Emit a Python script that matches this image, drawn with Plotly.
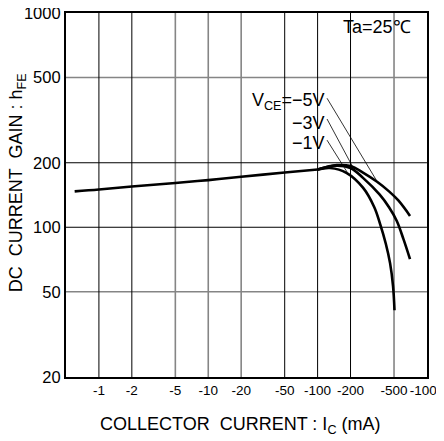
import plotly.graph_objects as go

# ---- data ----
x_ticks = [1, 2, 5, 10, 20, 50, 100, 200, 500, 1000]
x_tick_labels = ["-1", "-2", "-5", "-10", "-20", "-50", "-100", "-200", "-500", "-1000"]
y_ticks = [20, 50, 100, 200, 500, 1000]
y_tick_labels = ["20", "50", "100", "200", "500", "1000"]

# grid lines: dark ones and gray ones
x_grid_dark = [1, 2, 50, 100, 200]
x_grid_gray = [5, 10, 20, 500]
y_grid_dark = [100, 200]
y_grid_gray = [50, 500]

# common low-current part (all VCE)
ic_common = [0.6, 1, 2, 5, 10, 20, 50, 100]
hfe_common = [147, 150, 155, 161, 166, 172, 180, 186]

# high-current branches
ic_5v = [100, 150, 200, 260, 350, 450, 550, 700]
hfe_5v = [186, 195, 193, 180, 163, 147, 133, 113]

ic_3v = [100, 150, 200, 260, 370, 450, 530, 610, 700]
hfe_3v = [186, 194, 189, 170, 142, 124, 107, 88, 71]

ic_1v = [100, 130, 185, 260, 330, 372, 420, 460, 490, 505]
hfe_1v = [186, 189, 179, 153, 124, 104, 84, 68, 53, 41]

# leader lines (label end -> curve)
lead_5v_x = [122, 349]
lead_5v_y = [400, 164]
lead_3v_x = [122, 211]
lead_3v_y = [320, 190]
lead_1v_x = [122, 186]
lead_1v_y = [255, 181]

X_RANGE = [-0.30103, 3.0005]
Y_RANGE = [1.30103, 3]

fig = go.Figure()

def vline(v, color, width):
    fig.add_trace(go.Scatter(x=[v, v], y=[y_ticks[0], y_ticks[-1]], mode="lines",
                             line=dict(color=color, width=width),
                             hoverinfo="skip", showlegend=False))

def hline(v, color, width):
    fig.add_trace(go.Scatter(x=[0.5, x_ticks[-1]], y=[v, v], mode="lines",
                             line=dict(color=color, width=width),
                             hoverinfo="skip", showlegend=False))

for v in x_grid_gray:
    vline(v, "#858585", 1.6)
for v in y_grid_gray:
    hline(v, "#858585", 1.6)
for v in x_grid_dark:
    vline(v, "#000000", 1)
for v in y_grid_dark:
    hline(v, "#000000", 1)

# leader lines
for lx, ly in [(lead_5v_x, lead_5v_y), (lead_3v_x, lead_3v_y), (lead_1v_x, lead_1v_y)]:
    fig.add_trace(go.Scatter(x=lx, y=ly, mode="lines", line=dict(color="black", width=0.8),
                             hoverinfo="skip", showlegend=False))

curve_style = dict(color="black", width=2.6, shape="spline", smoothing=1.0)
fig.add_trace(go.Scatter(x=ic_common, y=hfe_common, mode="lines", line=curve_style,
                         showlegend=False, name="common"))
fig.add_trace(go.Scatter(x=ic_5v, y=hfe_5v, mode="lines", line=curve_style,
                         showlegend=False, name="VCE=-5V"))
fig.add_trace(go.Scatter(x=ic_3v, y=hfe_3v, mode="lines", line=curve_style,
                         showlegend=False, name="VCE=-3V"))
fig.add_trace(go.Scatter(x=ic_1v, y=hfe_1v, mode="lines", line=curve_style,
                         showlegend=False, name="VCE=-1V"))

FONT = "Liberation Sans, Arial, sans-serif"

fig.update_layout(
    width=444, height=433,
    margin=dict(l=58, r=25, t=5, b=64, autoexpand=False),
    paper_bgcolor="white", plot_bgcolor="white",
    font=dict(family=FONT, color="black"),
    xaxis=dict(type="log", range=X_RANGE, tickvals=x_ticks, ticktext=x_tick_labels,
               showgrid=False, zeroline=False, showline=True, linewidth=2.2,
               linecolor="black", mirror=True, ticks="", tickangle=0,
               tickfont=dict(size=13.5, family=FONT),
               automargin=False, ticklabeloverflow="allow"),
    yaxis=dict(type="log", range=Y_RANGE, tickvals=y_ticks, ticktext=y_tick_labels,
               showgrid=False, zeroline=False, showline=True, linewidth=2.2,
               linecolor="black", mirror=True, ticks="", tickfont=dict(size=16.5, family=FONT),
               automargin=False, ticklabeloverflow="allow"),
    annotations=[
        dict(text="Ta=25℃", xref="paper", yref="paper", x=0.962, y=0.961,
             xanchor="right", yanchor="middle", showarrow=False, font=dict(size=18)),
        dict(text="V<sub>CE</sub>=−5V", xref="paper", yref="paper", x=0.724, y=0.756,
             xanchor="right", yanchor="middle", showarrow=False, font=dict(size=18)),
        dict(text="−3V", xref="paper", yref="paper", x=0.724, y=0.698,
             xanchor="right", yanchor="middle", showarrow=False, font=dict(size=18)),
        dict(text="−1V", xref="paper", yref="paper", x=0.724, y=0.642,
             xanchor="right", yanchor="middle", showarrow=False, font=dict(size=18)),
        dict(text="COLLECTOR  CURRENT : I<sub>C</sub> (mA)", xref="paper", yref="paper",
             x=0.482, y=-0.132, xanchor="center", yanchor="middle", showarrow=False,
             font=dict(size=18)),
        dict(text="DC  CURRENT  GAIN : h<sub>FE</sub>", xref="paper", yref="paper",
             x=-0.134, y=0.534, xanchor="center", yanchor="middle", textangle=-90,
             showarrow=False, font=dict(size=18)),
    ],
)

fig.write_html("out.html")
